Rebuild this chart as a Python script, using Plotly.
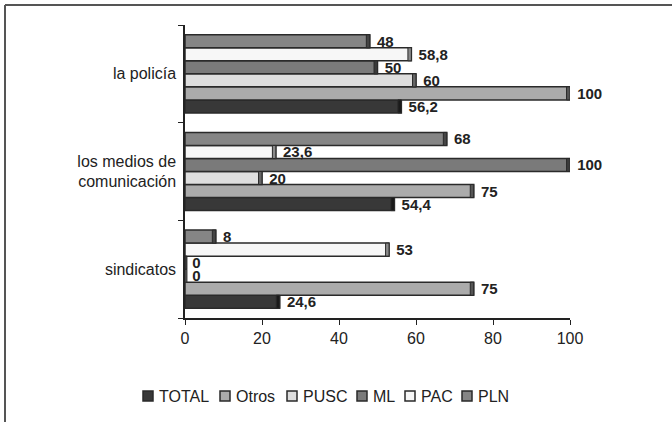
import plotly.graph_objects as go

# Categories (bottom to top) and series
categories = ["sindicatos", "los medios de<br>comunicación", "la policía"]
series_names = ["TOTAL", "Otros", "PUSC", "ML", "PAC", "PLN"]
total = [24.6, 54.4, 56.2]
otros = [75, 75, 100]
pusc = [0, 20, 60]
ml = [0, 100, 50]
pac = [53, 23.6, 58.8]
pln = [8, 68, 48]
x_ticks = [0, 20, 40, 60, 80, 100]

values = [total, otros, pusc, ml, pac, pln]
fills = ["#383838", "#ababab", "#dedede", "#7a7a7a", "#f7f7f7", "#858585"]
caps = ["#1a1a1a", "#555555", "#666666", "#3a3a3a", "#8a8a8a", "#444444"]
edge = "#2a2a2a"
CAP = 0.9  # depth of the shaded end face, in axis units

FONT = "Liberation Sans, Arial, sans-serif"
W, H = 672, 422
L, R, T, B = 185, 102, 25, 104


def fmt(v):
    return "\u00a0" + f"{v:g}".replace(".", ",")


fig = go.Figure()
for name, vals, color in zip(series_names, values, fills):
    fig.add_trace(go.Bar(
        name=name,
        y=categories,
        x=vals,
        orientation="h",
        offsetgroup=name,
        marker=dict(color=color, line=dict(color=edge, width=1.5)),
        text=[fmt(v) for v in vals],
        textposition="outside",
        constraintext="none",
        cliponaxis=False,
        textfont=dict(family=FONT, size=15, color="#222222", weight="bold"),
        showlegend=False,
    ))

# Shaded end face on each bar, giving the bars their block look
for name, vals, cap in zip(series_names, values, caps):
    widths = [min(CAP, v) if v > 0 else 0.5 for v in vals]
    fig.add_trace(go.Bar(
        name=name,
        y=categories,
        x=widths,
        base=[max(v - w, 0) for v, w in zip(vals, widths)],
        orientation="h",
        offsetgroup=name,
        marker=dict(color=cap, line=dict(color=edge, width=1)),
        showlegend=False,
        hoverinfo="skip",
    ))

fig.update_layout(
    barmode="group",
    bargap=0.2,
    bargroupgap=0,
    width=W,
    height=H,
    margin=dict(l=L, r=R, t=T, b=B),
    paper_bgcolor="white",
    plot_bgcolor="white",
    font=dict(family=FONT, size=16, color="#222222"),
    xaxis=dict(
        range=[0, 100],
        tickvals=x_ticks,
        ticktext=[str(t) for t in x_ticks],
        showgrid=False,
        zeroline=False,
        showline=True,
        linecolor="#222222",
        linewidth=1.5,
        ticks="outside",
        ticklen=5,
        tickcolor="#222222",
        tickfont=dict(size=16, color="#222222"),
    ),
    yaxis=dict(
        type="category",
        categoryorder="array",
        categoryarray=categories,
        showgrid=False,
        zeroline=False,
        showline=True,
        linecolor="#222222",
        linewidth=1.5,
        ticks="outside",
        tickson="boundaries",
        ticklen=5,
        tickcolor="#222222",
        ticklabelstandoff=4,
        tickfont=dict(size=16, color="#222222"),
    ),
)

pw, ph = W - L - R, H - T - B


def px_x(px):
    return (px - L) / pw


def px_y(py):
    return (H - B - py) / ph


# Frame lines along the top and left edges
fig.add_shape(type="line", xref="paper", yref="paper",
              x0=px_x(5), x1=px_x(700), y0=px_y(5), y1=px_y(5),
              line=dict(color="#555555", width=2))
fig.add_shape(type="line", xref="paper", yref="paper",
              x0=px_x(5), x1=px_x(5), y0=px_y(5), y1=px_y(440),
              line=dict(color="#555555", width=2))

# Legend row: small outlined squares followed by the series names
legend_left = [143, 220, 287, 357, 405, 462]
legend_cy = 396
sq = 10
for name, color, lx in zip(series_names, fills, legend_left):
    fig.add_shape(type="rect", xref="paper", yref="paper",
                  x0=px_x(lx), x1=px_x(lx + sq),
                  y0=px_y(legend_cy + sq / 2), y1=px_y(legend_cy - sq / 2),
                  fillcolor=color, line=dict(color=edge, width=1.5))
    fig.add_annotation(xref="paper", yref="paper",
                       x=px_x(lx + sq + 4), y=px_y(legend_cy),
                       xanchor="left", yanchor="middle",
                       text=name, showarrow=False,
                       font=dict(family=FONT, size=16, color="#222222"))

fig.write_html("out.html")
